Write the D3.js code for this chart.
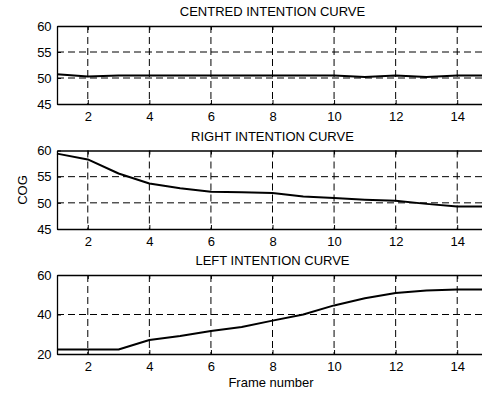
<!DOCTYPE html>
<html><head><meta charset="utf-8">
<script src="https://cdn.jsdelivr.net/npm/d3@7"></script>
<style>body{margin:0;background:#fff}svg{display:block}text{font-family:"Liberation Sans",Arial,sans-serif;fill:#000}</style>
</head><body>
<script>
const frames = [1,2,3,4,5,6,7,8,9,10,11,12,13,14,15];
const centred = [50.7,50.3,50.5,50.5,50.5,50.5,50.5,50.5,50.5,50.5,50.2,50.5,50.2,50.5,50.5];
const right = [59.4,58.3,55.6,53.7,52.8,52.1,52.0,51.9,51.2,50.9,50.6,50.4,49.8,49.3,49.3];
const left = [22.3,22.3,22.3,27.1,29.1,31.6,33.7,36.9,40.0,44.6,48.2,50.9,52.2,52.7,52.7];
const xTicks = [2,4,6,8,10,12,14];
const yTicksA = [45,50,55,60];
const yTicksC = [20,40,60];
const titles = ["CENTRED INTENTION CURVE","RIGHT INTENTION CURVE","LEFT INTENTION CURVE"];

const W = 482, H = 394;
const FS = "13px";
const svg = d3.select("body").append("svg").attr("width", W).attr("height", H);
const x = d3.scaleLinear().domain([1,15]).range([57, 488]);

const panels = [
  {data: centred, dom:[45,60], ticks:yTicksA, top:26, bot:104},
  {data: right, dom:[45,60], ticks:yTicksA, top:150.5, bot:229},
  {data: left, dom:[20,60], ticks:yTicksC, top:275, bot:354}
];

panels.forEach((p,i)=>{
  const y = d3.scaleLinear().domain(p.dom).range([p.bot, p.top]);
  const g = svg.append("g");
  xTicks.forEach(t=>{
    g.append("line").attr("x1",x(t)).attr("x2",x(t)).attr("y1",p.top).attr("y2",p.bot)
     .attr("stroke","#000").attr("stroke-width",1).attr("stroke-dasharray","7,4");
  });
  p.ticks.filter(t=>t!==p.dom[0]&&t!==p.dom[1]).forEach(t=>{
    g.append("line").attr("x1",x(1)).attr("x2",W).attr("y1",y(t)).attr("y2",y(t))
     .attr("stroke","#000").attr("stroke-width",1).attr("stroke-dasharray","7,4");
  });
  const xb = d3.axisBottom(x).tickValues(xTicks).tickSizeInner(-4).tickSizeOuter(0).tickPadding(8);
  const gx = g.append("g").attr("transform",`translate(0,${p.bot})`).call(xb);
  const xt = d3.axisTop(x).tickValues(xTicks).tickSizeInner(-4).tickSizeOuter(0).tickFormat("");
  const gxt = g.append("g").attr("transform",`translate(0,${p.top})`).call(xt);
  const yl = d3.axisLeft(y).tickValues(p.ticks).tickSizeInner(-4).tickSizeOuter(0).tickPadding(8);
  const gy = g.append("g").attr("transform",`translate(${x(1)},0)`).call(yl);
  [gx,gxt,gy].forEach(a=>{
    a.select(".domain").attr("stroke","#000").attr("stroke-width",1.3);
    a.selectAll(".tick line").attr("stroke","#000");
    a.selectAll("text").style("font-size",FS).attr("fill","#000");
  });
  gy.selectAll("text").attr("dx","0.2em");
  gx.selectAll("text").attr("dy","0.68em");
  const line = d3.line().x((d,j)=>x(frames[j])).y(d=>y(d));
  g.append("path").datum(p.data).attr("d",line).attr("fill","none")
   .attr("stroke","#000").attr("stroke-width",2).attr("stroke-linejoin","round");
  g.append("text").attr("x",272.5).attr("y",p.top-10).attr("text-anchor","middle")
   .style("font-size",FS).text(titles[i]);
});

svg.append("text").attr("transform","translate(27,190) rotate(-90)").attr("text-anchor","middle")
  .style("font-size",FS).text("COG");
svg.append("text").attr("x",271).attr("y",387).attr("text-anchor","middle")
  .style("font-size",FS).text("Frame number");
</script>
</body></html>
